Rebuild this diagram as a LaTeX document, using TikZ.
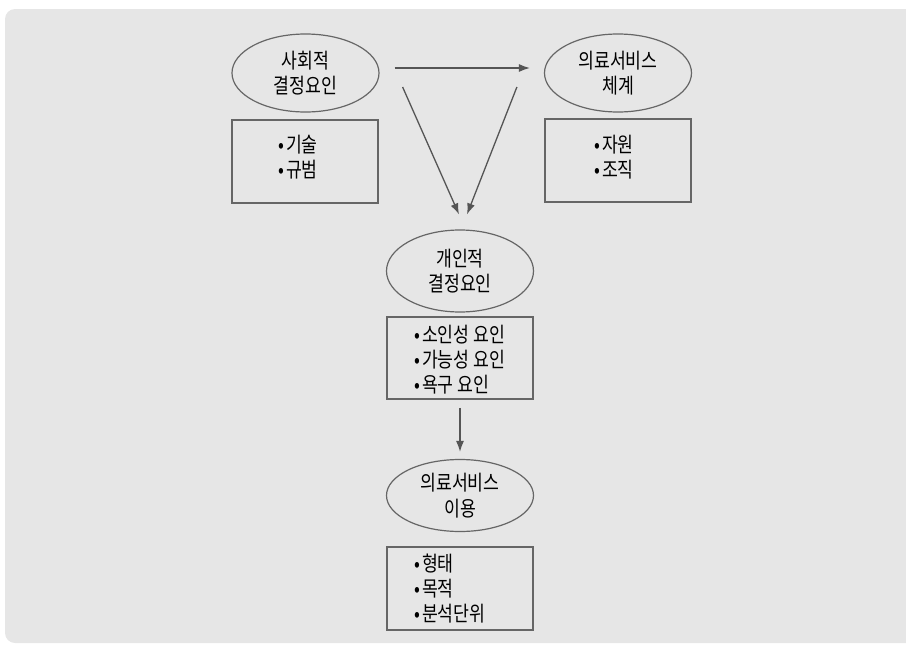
\documentclass[tikz,border=0pt]{standalone}
\usepackage{fontspec}
\setmainfont{Noto Sans CJK KR}[FakeStretch=0.82]
\usetikzlibrary{arrows.meta,shapes.geometric}
\definecolor{bgc}{HTML}{E6E6E6}
\definecolor{linec}{HTML}{666666}
\definecolor{arrc}{HTML}{555555}
\newcommand{\bul}{•\hspace{2pt}}
\begin{document}
\begin{tikzpicture}[x=1pt,y=-1pt,
  ell/.style={ellipse,draw=linec,line width=1.2pt,minimum width=147pt,inner sep=0pt,align=center,font=\fontsize{21}{25.5}\selectfont},
  boxn/.style={rectangle,draw=linec,line width=1.6pt,minimum width=146pt,minimum height=83pt,inner sep=0pt},
  listtxt/.style={anchor=west,align=left,inner sep=0pt,font=\fontsize{21}{25}\selectfont},
  arr/.style={draw=arrc,line width=1.3pt,-{Latex[length=11pt,width=8pt]}}]
\useasboundingbox (0,0) rectangle (906,645);
\clip (0,0) rectangle (906,645);
\fill[bgc,rounded corners=10pt] (5,9) rectangle (930,643);
% ellipses
\node[ell,minimum height=78pt] (s) at (305.5,73) {사회적\\결정요인};
\node[ell,minimum height=78pt] (t) at (618,73) {의료서비스\\체계};
\node[ell,minimum height=82pt] (p) at (460,271) {개인적\\결정요인};
\node[ell,minimum height=72pt] (u) at (460,495.5) {의료서비스\\이용};
% boxes
\node[boxn] (b1) at (305,161.5) {};
\node[boxn] (b2) at (618,160.5) {};
\node[boxn,minimum height=82pt] (b3) at (460,358) {};
\node[boxn] (b4) at (460,588.5) {};
\node[listtxt] (l1) at (278,157) {\bul 기술\\\bul 규범};
\node[listtxt] (l2) at (594,157) {\bul 자원\\\bul 조직};
\node[listtxt] (l3) at (414,359.5) {\bul 소인성 요인\\\bul 가능성 요인\\\bul 욕구 요인};
\node[listtxt] (l4) at (414,589) {\bul 형태\\\bul 목적\\\bul 분석단위};
% arrows
\draw[arr,shorten <=15pt,shorten >=14pt] ([yshift=5pt]s.east) -- ([yshift=5pt]t.west);
\draw[arr] ([xshift=23pt,yshift=-14pt]s.east) -- ([xshift=-1pt,yshift=15pt]p.north);
\draw[arr] ([xshift=-27pt,yshift=-14pt]t.west) -- ([xshift=7pt,yshift=15pt]p.north);
\draw[arr,shorten <=8pt,shorten >=7pt] (b3.south) -- (u.north);
\end{tikzpicture}
\end{document}
